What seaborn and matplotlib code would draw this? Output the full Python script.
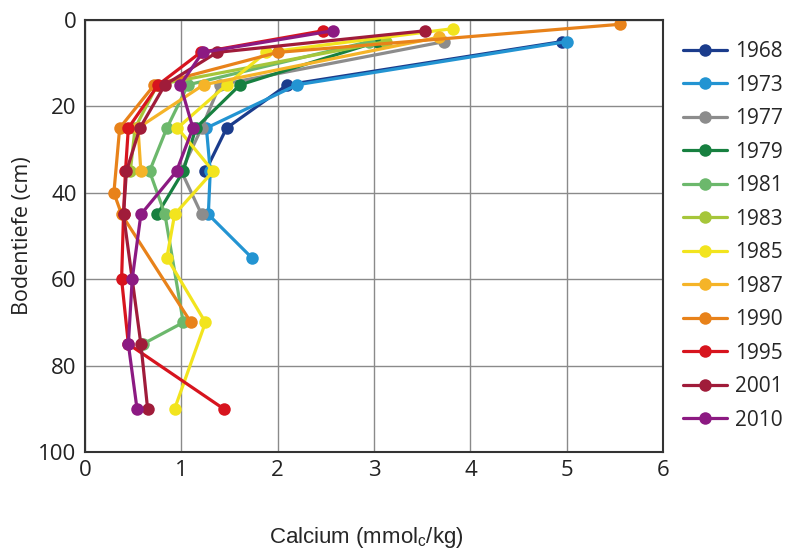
import pandas as pd
import numpy as np
import matplotlib
matplotlib.use("Agg")
import matplotlib.pyplot as plt
import seaborn as sns

# values: calcium (mmol_c/kg) per depth (cm)
years = ["1968", "1973", "1977", "1979", "1981", "1983",
         "1985", "1987", "1990", "1995", "2001", "2010"]

depth_1968 = [5, 15, 25, 35]
ca_1968 = [4.95, 2.10, 1.47, 1.25]

depth_1973 = [5, 15, 25, 35, 45, 55]
ca_1973 = [5.00, 2.20, 1.26, 1.30, 1.28, 1.73]

depth_1977 = [5, 15, 25, 35, 45]
ca_1977 = [3.73, 1.40, 1.21, 1.00, 1.21]

depth_1979 = [5, 15, 25, 35, 45]
ca_1979 = [3.04, 1.61, 1.15, 1.02, 0.75]

depth_1981 = [5, 15, 25, 35, 45, 70, 75]
ca_1981 = [2.95, 1.07, 0.85, 0.67, 0.83, 1.02, 0.60]

depth_1983 = [5, 15, 25, 35]
ca_1983 = [3.12, 0.75, 0.52, 0.47]

depth_1985 = [2, 7.5, 15, 25, 35, 45, 55, 70, 90]
ca_1985 = [3.82, 1.88, 1.47, 0.96, 1.33, 0.93, 0.85, 1.25, 0.93]

depth_1987 = [4, 15, 25, 35]
ca_1987 = [3.67, 1.23, 0.55, 0.58]

depth_1990 = [1, 7.5, 15, 25, 40, 45, 70]
ca_1990 = [5.55, 2.00, 0.72, 0.36, 0.30, 0.38, 1.10]

depth_1995 = [2.5, 7.5, 15, 25, 35, 45, 60, 75, 90]
ca_1995 = [2.47, 1.20, 0.76, 0.45, 0.42, 0.40, 0.38, 0.45, 1.44]

depth_2001 = [2.5, 7.5, 15, 25, 35, 45, 75, 90]
ca_2001 = [3.53, 1.37, 0.83, 0.57, 0.43, 0.40, 0.58, 0.65]

depth_2010 = [2.5, 7.5, 15, 25, 35, 45, 60, 75, 90]
ca_2010 = [2.57, 1.22, 0.99, 1.12, 0.95, 0.58, 0.49, 0.45, 0.54]

colors = ["#1b3c8c", "#2394d2", "#8c8c8c", "#178040", "#6cb86c", "#a6c63a",
          "#f2e41e", "#f5b428", "#e8821a", "#d7141e", "#a01c3a", "#8c1a82"]

depths = [depth_1968, depth_1973, depth_1977, depth_1979, depth_1981, depth_1983,
          depth_1985, depth_1987, depth_1990, depth_1995, depth_2001, depth_2010]
calcium = [ca_1968, ca_1973, ca_1977, ca_1979, ca_1981, ca_1983,
           ca_1985, ca_1987, ca_1990, ca_1995, ca_2001, ca_2010]

rows = []
for yr, d, c in zip(years, depths, calcium):
    for dd, cc in zip(d, c):
        rows.append({"Jahr": yr, "Tiefe": dd, "Ca": cc})
df = pd.DataFrame(rows)

sns.set_style("white")
plt.rcParams["font.family"] = ["Open Sans", "DejaVu Sans"]
plt.rcParams["mathtext.fontset"] = "custom"
plt.rcParams["mathtext.rm"] = "Liberation Sans"

fig = plt.figure(figsize=(7.98, 5.52), dpi=100)
ax = fig.add_axes([0.1065, 0.181, 0.7245, 0.7828])

sns.lineplot(data=df, x="Ca", y="Tiefe", hue="Jahr", hue_order=years,
             palette=colors, sort=False, estimator=None, marker="o",
             markersize=9, markeredgewidth=0, linewidth=2.3, ax=ax)

ax.set_xlim(0, 6)
ax.set_ylim(100, 0)
ax.set_xticks(range(0, 7))
ax.set_yticks(range(0, 101, 20))
ax.grid(True, color="#8a8a8a", linewidth=1.0)
ax.set_axisbelow(True)
for s in ax.spines.values():
    s.set_color("#333333")
    s.set_linewidth(1.5)
ax.tick_params(axis="both", labelsize=16, length=0, pad=6, colors="#222222")

ax.set_ylabel("Bodentiefe (cm)", fontsize=15.5, color="#222222", labelpad=4)
ax.set_xlabel("")
fig.text(0.459, 0.027, "Calcium (mmol$_{\\mathrm{c}}$/kg)", fontsize=16,
         family="Liberation Sans", ha="center", va="center")

ax.legend(loc="upper left", bbox_to_anchor=(1.02, 0.97), frameon=False,
          fontsize=15, handlelength=2.1, labelspacing=0.6, handletextpad=0.4,
          borderaxespad=0)

fig.savefig("out.png", dpi=100)
